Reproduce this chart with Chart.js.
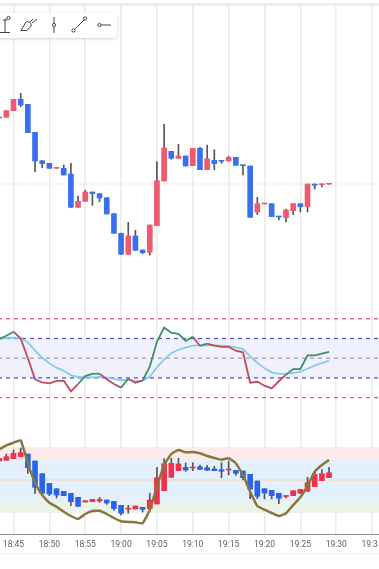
<!DOCTYPE html>
<html>
<head>
<meta charset="utf-8">
<title>Chart</title>
<script src="https://cdn.jsdelivr.net/npm/chart.js@4"></script>
<style>
    html, body { margin: 0; padding: 0; background: #fff; }
    #page { position: relative; width: 379px; height: 569px; overflow: hidden; background: #fff; }
    canvas { position: absolute; left: -10px; }
    #topWhite { position: absolute; left: 0; top: 0; width: 379px; height: 3px; background: #fff; }
    #topBar { position: absolute; left: 0; top: 3px; width: 379px; height: 3px; background: #eeeeee; }
    #bottomBar { position: absolute; left: 0; top: 553px; width: 379px; height: 1px; background: #efefef; }
    #tools { position: absolute; left: -10px; top: 13px; width: 127px; height: 25px; background: #fff; border-radius: 4px; box-shadow: 0 1px 3px rgba(0,0,0,.18); }
    #tools svg { position: absolute; left: 0; top: 0; }
</style>
</head>
<body>
<div id="page">
    <canvas id="cnvMain" width="400" height="300" style="top:0"></canvas>
    <canvas id="cnvRsi" width="400" height="118" style="top:300px"></canvas>
    <canvas id="cnvTrend" width="400" height="151" style="top:418px"></canvas>
    <div id="topWhite"></div>
    <div id="topBar"></div>
    <div id="bottomBar"></div>
    <div id="tools">
        <svg width="127" height="25" fill="none" stroke="#444" stroke-width="1">
            <path d="M10 19.5H20M15 19V7M15 6H16M13 7H17" />
            <circle cx="18.5" cy="5" r="1.6" />
            <path d="M31 17.5L36 9C39 8 42 10 41 13L37 17.5Z M40 9L43 6M42 10L47 6" />
            <path d="M64 4V20" /><circle cx="64" cy="12" r="1.6" fill="#fff" />
            <path d="M84 17L95 6" /><circle cx="83.5" cy="17.5" r="1.6" fill="#fff" /><circle cx="95" cy="5.5" r="1.6" fill="#fff" />
            <path d="M111 12H121" /><circle cx="109.5" cy="12" r="1.6" fill="#fff" />
        </svg>
    </div>
</div>
<script>
"use strict";

const minutes = ["18:43","18:44","18:45","18:46","18:47","18:48","18:49","18:50","18:51","18:52",
    "18:53","18:54","18:55","18:56","18:57","18:58","18:59","19:00","19:01","19:02",
    "19:03","19:04","19:05","19:06","19:07","19:08","19:09","19:10","19:11","19:12",
    "19:13","19:14","19:15","19:16","19:17","19:18","19:19","19:20","19:21","19:22",
    "19:23","19:24","19:25","19:26","19:27","19:28","19:29"];

//PRICE CANDLES
const mainOpen = [182,182.7,189.3,200.7,195.7,167.7,139.3,136.7,131.7,131.7,
    126,92.7,98.7,108,106.3,102.3,86.3,66.7,45.7,64,
    50,47.7,74.3,119,148.7,141.7,144,134.3,151.7,130.3,
    139.7,139.7,139,142.7,135,134,88,96,96.3,83.7,
    82.3,89.3,96.3,93.3,116,115.3,115.8];
const mainClose = [182.7,189.3,200.7,195,167.3,139,136.3,131.7,132.3,125,
    92.7,98.7,108,106.3,102,86,66.7,45.7,64,49.7,
    47.3,75,119.3,152,141.7,144,134,151.7,130.3,141.3,
    136.3,138.7,142.7,134.7,134.3,82.7,96.3,96.5,83.3,83,
    90,96.3,93.3,116,114.7,116,116];
const mainHigh = [null,null,null,206.7,null,null,null,null,null,135,
    136.7,104,109.7,null,null,null,null,67,77.7,69.7,
    null,null,138.3,175.7,null,155.7,null,null,152.7,155,
    150.3,null,143.7,null,null,null,102.7,null,null,null,
    91,null,null,null,null,null,null];
const mainLow = [null,null,null,193.3,null,128.3,132.3,null,null,null,
    null,null,null,94.7,98.3,null,null,null,null,null,
    46.3,45,null,null,140.7,null,null,null,null,null,
    130.3,136.7,null,null,125,null,85.3,null,null,80,
    78,85.3,88,88,111,113,null];
const lastPrice = 116;

//RSI PANE
const rsiValues = [69.5,72.8,76.9,70,49.9,28.6,25.5,24.5,26.9,27.2,
    16.4,23.8,31.9,34,34.3,28.6,23.8,20.1,29.2,25.1,
    27.2,41.4,66.7,81,75.9,74.6,67.5,71.8,62.4,64.7,
    62.7,61.4,61.4,57.6,56,25.1,26.1,22.1,19.4,26.6,
    33.3,39,39,52.9,52.9,54.6,56.3];
const rsiSignal = [69.8,70.5,70.8,70.2,66.1,57.6,50.5,44.8,40.4,37.3,
    32.9,30.9,30.6,30.6,30.9,30.2,28.9,27.6,28.2,26.9,
    27.2,31.2,40.8,48.9,55,58.6,60.7,62.7,63.1,63.4,
    63.1,62.7,62.4,61.1,59.3,51.9,45.4,39.7,35.7,34,
    34,35,36,39.3,42.4,45.1,47.5];
const rsiLevels = [90, 70, 50, 30, 10];

//TREND PANE
const trendOpen = [19,19.7,21.3,23.3,26,19,6.3,-3.3,-8.7,-11.3,
    -13.3,-17.3,-22,-21.7,-21,-20,-21.3,-25.3,-29,-29,
    -27.3,-28.7,-24,-10.7,2.7,9.3,12.7,12,13.3,12.3,
    11,10.3,10,9.7,9,5.7,-1,-8.7,-10.3,-13.3,
    -16,-15.7,-13.3,-11.3,-6.7,-0.7,2.3];
const trendClose = [21.7,23.3,26.7,27.3,12.3,-7.3,-13.3,-14,-15,-15.7,
    -21.7,-26.3,-20.7,-19.3,-19.3,-23,-28.7,-33.3,-28.2,-26,
    -29.3,-20,2.3,16.3,16.7,16,10,13,10.7,9.7,
    9.3,8.7,10.5,6.7,2.3,-9,-16.3,-13,-15.7,-18.3,
    -15.5,-10.7,-9.3,-2.7,5.7,6.3,7.3];
const trendHigh = [null,26,30,32,null,null,null,null,null,null,
    null,null,null,null,-17.3,null,null,null,-25.3,null,
    null,-13.3,12.7,21.3,21.7,21.7,17,17.3,15,14.7,
    13.7,17.3,19,null,null,null,null,null,null,null,
    null,null,null,2.7,8.3,10.3,12.7];
const trendLow = [null,null,null,null,6.7,-13.3,null,-15.7,-18,null,
    -25.7,null,null,null,-22.3,-24.3,-30.3,-35,-33.3,null,
    -32,null,null,null,null,null,8.7,9.3,10.3,null,
    null,2.3,5,4.7,0,-18.7,-18.7,-19,-19,-23.7,
    -18,null,null,null,null,null,null];
const trendLine = [30.7,34.7,37.3,39.7,16.7,-2.7,-15,-22.7,-26.7,-31.7,
    -36,-39,-34,-31,-30.7,-34,-38,-41.3,-42,-42.3,
    -43.3,-30,-6.7,15,26,30,27.7,28,26.7,24,
    22,20.3,21.7,16.7,5,-11.7,-26,-29.7,-33,-36,
    -33.3,-25,-17.3,-6,8.3,15,20];
const trendZones = [[21, 33], [-21, 21], [-33, -21]];

const xFrom = 1121.72;
const xTo = 1177.5;

function toMinute(label) {
    let parts = label.split(":");
    return parseInt(parts[0]) * 60 + parseInt(parts[1]);
}

function toLabel(value) {
    let m = value % 60;
    return Math.floor(value / 60) + ":" + (m < 10 ? "0" + m : m);
}

function points(values) {
    return values.map(function (v, i) {
        return { x: toMinute(minutes[i]), y: v };
    });
}

function level(value, color, dash, width) {
    return {
        type: "line",
        data: [{ x: xFrom, y: value }, { x: xTo, y: value }],
        borderColor: color,
        borderWidth: width,
        borderDash: dash,
        pointRadius: 0,
        order: 5
    };
}

function zone(range, color) {
    return {
        type: "line",
        data: [{ x: xFrom, y: range[1] }, { x: xTo, y: range[1] }],
        borderWidth: 0,
        pointRadius: 0,
        fill: { target: { value: range[0] } },
        backgroundColor: color,
        order: 9
    };
}

function candles(open, close, high, low, red, blue) {
    let bodies = open.map(function (o, i) {
        return { x: toMinute(minutes[i]), y: [o, close[i]] };
    });
    let wicks = open.map(function (o, i) {
        let top = high[i] === null ? Math.max(o, close[i]) : high[i];
        let bottom = low[i] === null ? Math.min(o, close[i]) : low[i];
        return { x: toMinute(minutes[i]), y: [bottom, top] };
    });
    return [{
        type: "bar",
        data: bodies,
        barThickness: 5,
        minBarLength: 1,
        grouped: false,
        backgroundColor: open.map(function (o, i) { return close[i] >= o ? red : blue; }),
        order: 2
    }, {
        type: "bar",
        data: wicks,
        barThickness: 1,
        grouped: false,
        backgroundColor: "#555555",
        order: 3
    }];
}

function options(yMin, yMax, withTicks) {
    return {
        responsive: false,
        animation: false,
        layout: { padding: 0 },
        plugins: { legend: { display: false }, tooltip: { enabled: false } },
        scales: {
            x: {
                type: "linear",
                min: xFrom,
                max: xTo,
                offset: false,
                afterFit: function (scale) { scale.height = withTicks ? 35 : 0; },
                border: { display: withTicks, color: "#8c8c8c" },
                grid: { color: "#ebebeb", lineWidth: 1.5, drawTicks: false, offset: false },
                ticks: {
                    display: withTicks,
                    stepSize: 5,
                    includeBounds: false,
                    autoSkip: false,
                    maxRotation: 0,
                    padding: 6,
                    color: "#5f5f5f",
                    font: { family: "Roboto", size: 8.5 },
                    callback: toLabel
                }
            },
            y: { display: false, min: yMin, max: yMax }
        }
    };
}

//MAIN CHART
new Chart(document.getElementById("cnvMain"), {
    data: {
        datasets: candles(mainOpen, mainClose, mainHigh, mainLow, "#ef5a70", "#3a6ff0")
            .concat([level(lastPrice, "#f7b4bc", [1, 2], 1)])
    },
    options: options(0, 300, false)
});

//RSI CHART
let rsiSets = [
    zone([rsiLevels[3], rsiLevels[1]], "#f1f1fd"),
    level(rsiLevels[0], "#f0556e", [4, 4], 1.3),
    level(rsiLevels[1], "#5050ee", [4, 4], 1.3),
    level(rsiLevels[2], "#a8a0b0", [4, 4], 1.3),
    level(rsiLevels[3], "#5050ee", [4, 4], 1.3),
    level(rsiLevels[4], "#f0556e", [4, 4], 1.3),
    {
        type: "line",
        data: points(rsiSignal),
        borderColor: "#86cbe8",
        borderWidth: 1.8,
        pointRadius: 0,
        order: 2
    },
    {
        type: "line",
        data: points(rsiValues),
        borderWidth: 1.8,
        pointRadius: 0,
        order: 1,
        segment: {
            borderColor: function (ctx) {
                return rsiValues[ctx.p1DataIndex] > rsiSignal[ctx.p1DataIndex] ? "#3a9068" : "#c04a5a";
            }
        }
    }
];
new Chart(document.getElementById("cnvRsi"), {
    data: { datasets: rsiSets },
    options: options(-10.7, 109.07, false)
});

//TREND CHART
let trendSets = [
    zone(trendZones[0], "#fdeaea"),
    zone(trendZones[1], "#e4f1fc"),
    zone(trendZones[2], "#ebf3ea"),
    level(0, "#efe0cc", [], 1.3),
    {
        type: "line",
        data: points(trendLine),
        borderColor: "#86773f",
        borderWidth: 2.5,
        tension: 0.12,
        pointRadius: 0,
        order: 1
    }
].concat(candles(trendOpen, trendClose, trendHigh, trendLow, "#f2304a", "#2a63f0"));
new Chart(document.getElementById("cnvTrend"), {
    data: { datasets: trendSets },
    options: options(-54, 62, true)
});
</script>
</body>
</html>
